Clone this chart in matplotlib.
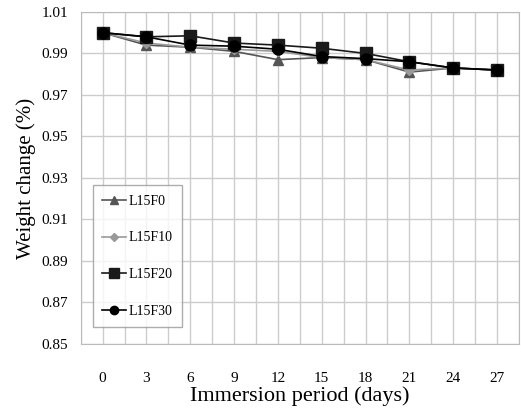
import numpy as np
import matplotlib.pyplot as plt

days = [0, 3, 6, 9, 12, 15, 18, 21, 24, 27]
l15f0 = [1.000, 0.994, 0.993, 0.991, 0.987, 0.988, 0.987, 0.981, 0.983, 0.982]
l15f10 = [1.000, 0.995, 0.993, 0.992, 0.991, 0.988, 0.987, 0.982, 0.983, 0.982]
l15f20 = [1.000, 0.998, 0.9985, 0.995, 0.994, 0.9925, 0.990, 0.986, 0.983, 0.982]
l15f30 = [1.000, 0.998, 0.994, 0.9935, 0.992, 0.9885, 0.9875, 0.986, 0.983, 0.982]

plt.rcParams['font.family'] = 'Liberation Serif'

fig = plt.figure(figsize=(5.21, 4.11), dpi=100)
ax = fig.add_axes([0.155, 0.163, 0.841, 0.808])

x = np.arange(len(days))
ax.plot(x, l15f0, '-^', color='#555555', ms=7, lw=1.2, label='L15F0')
ax.plot(x, l15f10, '-D', color='#999999', ms=5, lw=1.2, label='L15F10')
ax.plot(x, l15f20, '-s', color='#1a1a1a', ms=9, lw=1.2, label='L15F20')
ax.plot(x, l15f30, '-o', color='black', ms=8, lw=1.2, label='L15F30')

ax.set_xlim(-0.5, len(days) - 0.5)
ax.set_ylim(0.85, 1.01)
ax.set_xticks(x)
ax.set_xticklabels([str(d) for d in days])
ax.set_xticks(np.arange(-0.5, len(days), 1), minor=True)
ax.set_yticks(np.arange(0.85, 1.011, 0.02))
ax.set_yticklabels(['%.2f' % v for v in np.arange(0.85, 1.011, 0.02)])
ax.grid(True, which='both', axis='x', color='#cccccc', lw=1)
ax.grid(True, which='major', axis='y', color='#cccccc', lw=1)
ax.tick_params(which='both', length=0, labelsize=11)
ax.tick_params(axis='x', pad=20)
ax.tick_params(axis='y', pad=9)
for s in ax.spines.values():
    s.set_color('#bbbbbb')

ax.set_xlabel('Immersion period (days)', fontsize=16, labelpad=1)
ax.set_ylabel('Weight change (%)', fontsize=15)

leg = ax.legend(loc='lower left', bbox_to_anchor=(0.027, 0.05), fontsize=10,
                fancybox=False, edgecolor='#999999', handlelength=1.7,
                labelspacing=1.7, borderpad=0.7, handletextpad=0.2,
                borderaxespad=0, markerscale=0.75)
leg.get_frame().set_linewidth(1)

fig.savefig('out.png', dpi=100)
